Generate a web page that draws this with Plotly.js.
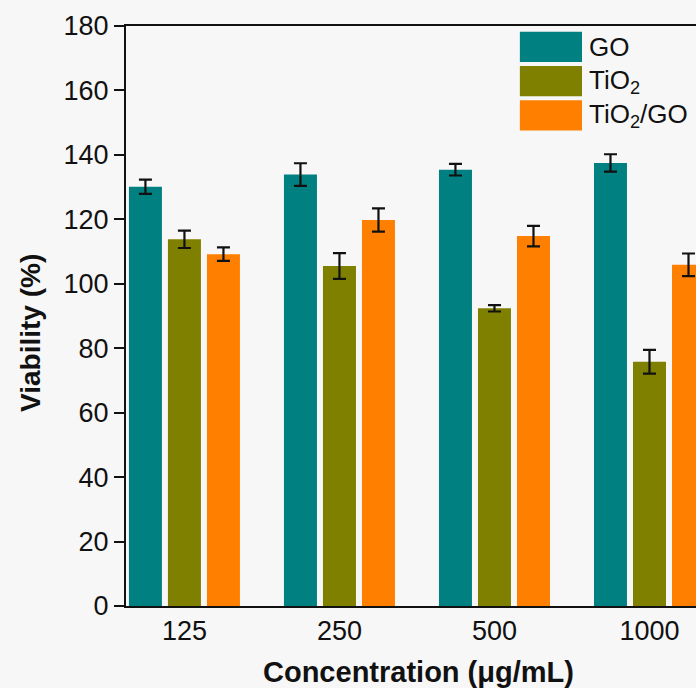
<!DOCTYPE html>
<html>
<head>
<meta charset="utf-8">
<script src="https://cdn.plot.ly/plotly-3.0.1.min.js"></script>
<style>html,body{margin:0;padding:0;background:#f7f7f7;}</style>
</head>
<body>
<div id="chart" style="width:696px;height:688px;"></div>
<script>
const categories = ["125", "250", "500", "1000"];
const seriesNames = ["GO", "TiO<sub>2</sub>", "TiO<sub>2</sub>/GO"];
const goValues = [130.1, 133.9, 135.4, 137.5];
const goErrors = [2.2, 3.5, 1.8, 2.7];
const tio2Values = [113.8, 105.5, 92.4, 75.8];
const tio2Errors = [2.7, 4.0, 1.0, 3.7];
const compValues = [109.2, 119.8, 114.8, 105.9];
const compErrors = [2.1, 3.6, 3.2, 3.5];
const colors = ["#008080", "#808000", "#ff8000"];
const yTicks = [0, 20, 40, 60, 80, 100, 120, 140, 160, 180];
const xTitle = "Concentration (μg/mL)";
const yTitle = "Viability (%)";

const font = "Liberation Sans, Arial, Helvetica, sans-serif";
const vals = [goValues, tio2Values, compValues];
const errs = [goErrors, tio2Errors, compErrors];

const traces = vals.map((v, i) => ({
  type: "bar",
  name: seriesNames[i],
  x: categories,
  y: v,
  marker: {color: colors[i], line: {width: 0}},
  error_y: {type: "data", array: errs[i], visible: true, color: "#111", thickness: 2.2, width: 6.5},
  showlegend: false,
  hoverinfo: "skip"
}));

// custom legend (large swatches)
const shapes = [];
const annotations = [];
const legTop = [0.990, 0.931, 0.872];
legTop.forEach((t, i) => {
  shapes.push({type: "rect", xref: "paper", yref: "paper", x0: 0.691, x1: 0.800, y0: t - 0.052, y1: t,
    fillcolor: colors[i], line: {width: 0}});
  annotations.push({xref: "paper", yref: "paper", x: 0.808, y: t - 0.026, xanchor: "left", yanchor: "middle",
    text: seriesNames[i], showarrow: false, font: {family: font, size: 26, color: "#111"}});
});

// axis titles
annotations.push({xref: "paper", yref: "paper", x: 0.514, y: -0.1138, xanchor: "center", yanchor: "middle",
  text: "<b>" + xTitle + "</b>", showarrow: false, font: {family: font, size: 29, color: "#111"}});
annotations.push({xref: "paper", yref: "paper", x: -0.1667, y: 0.4707, xanchor: "center", yanchor: "middle",
  textangle: -90, text: "<b>" + yTitle + "</b>", showarrow: false, font: {family: font, size: 28, color: "#111"}});

const layout = {
  width: 696, height: 688,
  margin: {l: 126, r: 0, t: 26, b: 82},
  paper_bgcolor: "#f7f7f7",
  plot_bgcolor: "#f7f7f7",
  barmode: "group",
  bargap: 0.245,
  bargroupgap: 0.154,
  font: {family: font, color: "#111"},
  xaxis: {
    type: "category",
    range: [-0.377, 3.3],
    showline: true, linecolor: "#111", linewidth: 2, mirror: true,
    ticks: "", showgrid: false, zeroline: false,
    tickfont: {family: font, size: 27, color: "#111"},
    automargin: false
  },
  yaxis: {
    range: [0, 180],
    tickvals: yTicks,
    showline: true, linecolor: "#111", linewidth: 2,
    ticks: "outside", ticklen: 10, tickwidth: 2, tickcolor: "#111",
    showgrid: false, zeroline: false,
    tickfont: {family: font, size: 27, color: "#111"},
    automargin: false
  },
  shapes: shapes,
  annotations: annotations
};

Plotly.newPlot("chart", traces, layout, {displayModeBar: false, staticPlot: true});
</script>
</body>
</html>
